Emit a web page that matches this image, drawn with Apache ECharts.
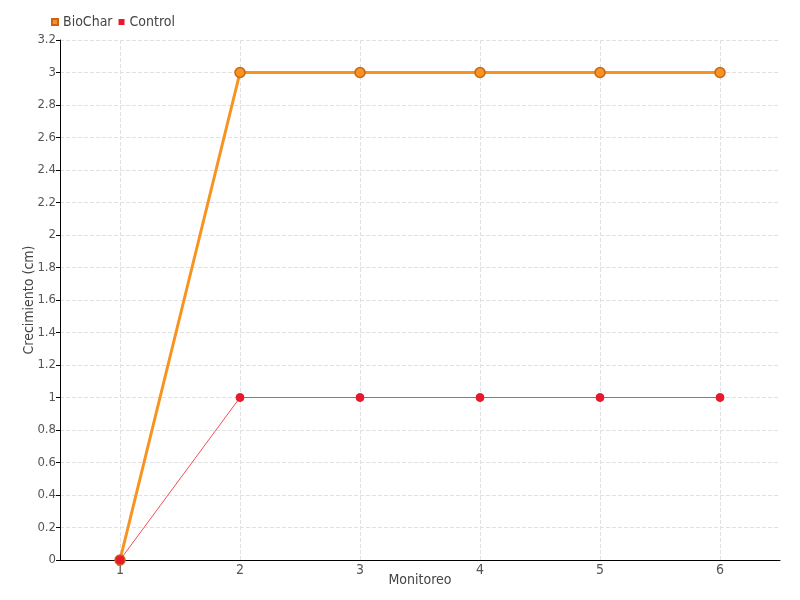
<!DOCTYPE html>
<html><head><meta charset="utf-8">
<script src="https://cdn.jsdelivr.net/npm/echarts@6/dist/echarts.min.js"></script>
<style>html,body{margin:0;padding:0;background:#fff}#c{width:800px;height:600px}</style>
</head><body><div id="c"></div>
<script>
const categories = ['1','2','3','4','5','6'];
const biochar = [0,3,3,3,3,3];
const control = [0,1,1,1,1,1];
const FONT = '"DejaVu Sans Condensed","Liberation Sans Narrow",sans-serif';
const chart = echarts.init(document.getElementById('c'));
chart.setOption({
  animation:false,
  textStyle:{fontFamily:FONT},
  legend:{left:46,top:10,itemWidth:6,itemHeight:6,itemGap:6,icon:'rect',
    textStyle:{fontFamily:FONT,fontSize:14,color:'#444'},
    data:['BioChar','Control']},
  grid:{left:60,right:20,top:40,bottom:40},
  xAxis:{type:'category',data:categories,boundaryGap:true,
    name:'Monitoreo',nameLocation:'middle',nameGap:13,nameMoveOverlap:false,
    nameTextStyle:{fontFamily:FONT,fontSize:14,color:'#444'},
    axisLine:{lineStyle:{color:'#000'}},
    axisTick:{alignWithLabel:true,lineStyle:{color:'#000'}},
    axisLabel:{fontFamily:FONT,fontSize:14,color:'#555',margin:3},
    splitLine:{show:true,alignWithLabel:true,lineStyle:{type:'dashed',color:'#e0e0e0'}}},
  yAxis:{type:'value',min:0,max:3.2,interval:0.2,
    name:'Crecimiento (cm)',nameLocation:'middle',nameGap:24,nameMoveOverlap:false,
    nameTextStyle:{fontFamily:FONT,fontSize:14,color:'#444'},
    axisLine:{show:true,lineStyle:{color:'#000'}},
    axisTick:{show:true,length:4,lineStyle:{color:'#000'}},
    axisLabel:{fontFamily:FONT,fontSize:13,color:'#555',margin:4,formatter:v=>String(+v.toFixed(1))},
    splitLine:{show:true,lineStyle:{type:'dashed',color:'#e0e0e0'}}},
  series:[
    {name:'BioChar',type:'line',data:biochar,symbol:'circle',symbolSize:10,
     lineStyle:{width:3,color:'#f7931e'},
     itemStyle:{color:'#f7931e',borderColor:'#c8651a',borderWidth:1.5}},
    {name:'Control',type:'line',data:control,symbol:'circle',symbolSize:8,
     lineStyle:{width:1,color:'#f44c5a'},
     itemStyle:{color:'#e8192c',borderColor:'#e8192c'}}
  ]
});
</script></body></html>
